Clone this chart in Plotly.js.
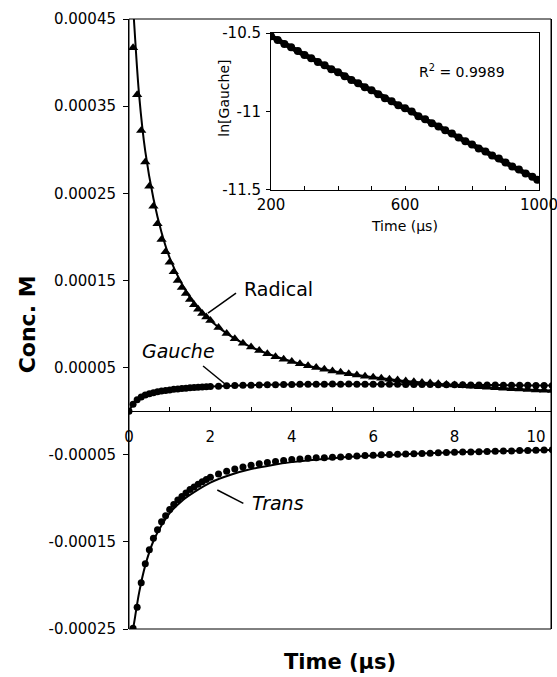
<!DOCTYPE html>
<html>
<head>
<meta charset="utf-8">
<script src="https://cdn.plot.ly/plotly-3.0.1.min.js"></script>
<style>html,body{margin:0;padding:0;background:#fff;}#chart{width:557px;height:677px;}</style>
</head>
<body>
<div id="chart"></div>
<script>
// ---- main panel data (time in microseconds, concentration in M) ----
var timeData = [0.1,0.2,0.3,0.4,0.5,0.6,0.7,0.8,0.9,1.0,1.1,1.2,1.3,1.4,1.5,1.6,1.7,1.8,1.9,2.0,
  2.2,2.4,2.6,2.8,3.0,3.2,3.4,3.6,3.8,4.0,4.2,4.4,4.6,4.8,5.0,5.2,5.4,5.6,5.8,6.0,
  6.2,6.4,6.6,6.8,7.0,7.2,7.4,7.6,7.8,8.0,8.2,8.4,8.6,8.8,9.0,9.2,9.4,9.6,9.8,10.0,10.2,10.4];

var radical = [4.17e-4,3.63e-4,3.22e-4,2.86e-4,2.58e-4,2.35e-4,2.15e-4,1.97e-4,1.83e-4,1.71e-4,
  1.60e-4,1.50e-4,1.42e-4,1.35e-4,1.28e-4,1.22e-4,1.17e-4,1.12e-4,1.08e-4,1.04e-4,
  0.96e-4,0.89e-4,0.83e-4,0.78e-4,0.735e-4,0.695e-4,0.66e-4,0.625e-4,0.595e-4,0.57e-4,
  0.545e-4,0.52e-4,0.50e-4,0.48e-4,0.46e-4,0.445e-4,0.43e-4,0.415e-4,0.40e-4,0.39e-4,
  0.378e-4,0.367e-4,0.357e-4,0.347e-4,0.338e-4,0.33e-4,0.322e-4,0.314e-4,0.306e-4,0.299e-4,
  0.292e-4,0.286e-4,0.28e-4,0.274e-4,0.268e-4,0.263e-4,0.258e-4,0.253e-4,0.248e-4,0.244e-4,0.24e-4,0.236e-4];

var gaucheTime = [0].concat(timeData);
var gauche = [0,0.8e-5,1.3e-5,1.62e-5,1.85e-5,2.0e-5,2.12e-5,2.22e-5,2.31e-5,2.38e-5,2.44e-5,
  2.5e-5,2.55e-5,2.6e-5,2.64e-5,2.68e-5,2.71e-5,2.74e-5,2.77e-5,2.8e-5,2.82e-5,
  2.86e-5,2.9e-5,2.93e-5,2.96e-5,2.98e-5,3.0e-5,3.02e-5,3.04e-5,3.05e-5,3.07e-5,
  3.08e-5,3.09e-5,3.1e-5,3.1e-5,3.11e-5,3.1e-5,3.11e-5,3.1e-5,3.1e-5,3.09e-5,
  3.09e-5,3.08e-5,3.08e-5,3.07e-5,3.06e-5,3.06e-5,3.05e-5,3.04e-5,3.03e-5,3.03e-5,
  3.02e-5,3.01e-5,3.0e-5,3.0e-5,2.99e-5,2.98e-5,2.97e-5,2.97e-5,2.96e-5,2.95e-5,2.95e-5,2.94e-5];

var trans = [-2.49e-4,-2.25e-4,-1.97e-4,-1.75e-4,-1.59e-4,-1.46e-4,-1.36e-4,-1.27e-4,-1.2e-4,-1.13e-4,
  -1.07e-4,-1.02e-4,-0.98e-4,-0.94e-4,-0.9e-4,-0.87e-4,-0.84e-4,-0.81e-4,-0.785e-4,-0.76e-4,
  -0.72e-4,-0.69e-4,-0.665e-4,-0.64e-4,-0.62e-4,-0.605e-4,-0.59e-4,-0.577e-4,-0.566e-4,-0.556e-4,
  -0.548e-4,-0.54e-4,-0.535e-4,-0.534e-4,-0.53e-4,-0.525e-4,-0.52e-4,-0.515e-4,-0.51e-4,-0.505e-4,
  -0.501e-4,-0.498e-4,-0.495e-4,-0.491e-4,-0.488e-4,-0.485e-4,-0.482e-4,-0.478e-4,-0.476e-4,-0.473e-4,
  -0.47e-4,-0.468e-4,-0.465e-4,-0.463e-4,-0.46e-4,-0.458e-4,-0.456e-4,-0.453e-4,-0.451e-4,-0.449e-4,-0.447e-4,-0.445e-4];

// fitted curves
var radicalFitTime = [0.05,0.12,0.25,0.4,0.6,0.8,1.0,1.3,1.6,2.0,2.5,3.0,4.0,5.0,6.0,7.0,8.0,9.0,10.0,10.4];
var radicalFit = [5.0e-4,4.5e-4,3.62e-4,2.98e-4,2.44e-4,2.05e-4,1.76e-4,1.46e-4,1.24e-4,1.04e-4,
  0.86e-4,0.735e-4,0.57e-4,0.46e-4,0.39e-4,0.338e-4,0.299e-4,0.268e-4,0.244e-4,0.236e-4];
var gaucheFitTime = [0,0.1,0.2,0.4,0.6,0.8,1.0,1.5,2.0,3.0,4.0,5.0,6.0,7.0,8.0,9.0,10.0,10.4];
var gaucheFit = [0,0.78e-5,1.28e-5,1.83e-5,2.1e-5,2.3e-5,2.43e-5,2.67e-5,2.82e-5,2.98e-5,
  3.07e-5,3.1e-5,3.09e-5,3.06e-5,3.03e-5,2.99e-5,2.95e-5,2.94e-5];
var transFitTime = [0.08,0.15,0.25,0.4,0.6,0.8,1.0,1.3,1.6,2.0,2.5,3.0,3.5,4.0,5.0,6.0,7.0,8.0,9.0,10.0,10.4];
var transFit = [-2.56e-4,-2.36e-4,-2.08e-4,-1.77e-4,-1.49e-4,-1.31e-4,-1.17e-4,-1.03e-4,-0.93e-4,-0.82e-4,
  -0.73e-4,-0.665e-4,-0.62e-4,-0.585e-4,-0.54e-4,-0.51e-4,-0.49e-4,-0.473e-4,-0.46e-4,-0.449e-4,-0.445e-4];

// ---- inset data ----
var insetTime = [200,220,240,260,280,300,320,340,360,380,400,420,440,460,480,500,520,540,560,580,
  600,620,640,660,680,700,720,740,760,780,800,820,840,860,880,900,920,940,960,980,995];
var lnGauche = [-10.52,-10.545,-10.57,-10.59,-10.615,-10.64,-10.66,-10.685,-10.705,-10.73,
  -10.75,-10.775,-10.80,-10.82,-10.845,-10.865,-10.89,-10.915,-10.935,-10.96,
  -10.98,-11.00,-11.03,-11.05,-11.075,-11.095,-11.12,-11.14,-11.165,-11.19,
  -11.21,-11.235,-11.255,-11.28,-11.30,-11.325,-11.35,-11.37,-11.395,-11.415,-11.435];

// ---- tick labels ----
var yTickVals = [-0.00025,-0.00015,-0.00005,0.00005,0.00015,0.00025,0.00035,0.00045];
var yTickText = ['-0.00025','-0.00015','-0.00005','0.00005','0.00015','0.00025','0.00035','0.00045'];
var xTickVals = [0,2,4,6,8,10];
var xTickText = ['0','2','4','6','8','10'];
var insetXTickVals = [200,600,1000];
var insetXTickText = ['200','600','1000'];
var insetYTickVals = [-11.5,-11,-10.5];
var insetYTickText = ['-11.5','-11','-10.5'];

var yRange = [-0.00025, 0.00045];
var xRange = [0, 10.37];

var FONT = 'DejaVu Sans, Verdana, sans-serif';
var BLACK = '#000';

var traces = [
  {x: radicalFitTime, y: radicalFit, mode: 'lines', line: {color: BLACK, width: 2, shape: 'spline'}, xaxis: 'x', yaxis: 'y', hoverinfo: 'skip'},
  {x: gaucheFitTime, y: gaucheFit, mode: 'lines', line: {color: BLACK, width: 2, shape: 'spline'}, xaxis: 'x', yaxis: 'y', hoverinfo: 'skip'},
  {x: transFitTime, y: transFit, mode: 'lines', line: {color: BLACK, width: 2, shape: 'spline'}, xaxis: 'x', yaxis: 'y', hoverinfo: 'skip'},
  {x: timeData, y: radical, mode: 'markers', marker: {symbol: 'triangle-up', size: 9, color: BLACK}, xaxis: 'x', yaxis: 'y'},
  {x: gaucheTime, y: gauche, mode: 'markers', marker: {symbol: 'circle', size: 7, color: BLACK}, xaxis: 'x', yaxis: 'y'},
  {x: timeData, y: trans, mode: 'markers', marker: {symbol: 'circle', size: 7, color: BLACK}, xaxis: 'x', yaxis: 'y'},
  {x: insetTime, y: lnGauche, mode: 'lines+markers', line: {color: BLACK, width: 5}, marker: {symbol: 'circle', size: 8, color: BLACK}, xaxis: 'x2', yaxis: 'y2'}
];

var layout = {
  width: 557, height: 677,
  margin: {l: 129, r: 6, t: 19, b: 48},
  paper_bgcolor: '#fff', plot_bgcolor: '#fff',
  showlegend: false,
  font: {family: FONT, color: BLACK, size: 15},
  xaxis: {
    domain: [0, 1], range: xRange, anchor: 'free',
    position: (0 - yRange[0]) / (yRange[1] - yRange[0]),
    showgrid: false, zeroline: false, showline: true, linecolor: BLACK, linewidth: 1,
    ticks: 'inside', ticklen: 4, tickcolor: BLACK,
    tickmode: 'array', tickvals: xTickVals, ticktext: xTickText,
    minor: {dtick: 1, tick0: 0, ticks: 'inside', ticklen: 4, tickcolor: BLACK, showgrid: false},
    ticklabelstandoff: 12,
    tickfont: {family: FONT, size: 15, color: BLACK}
  },
  yaxis: {
    domain: [0, 1], range: yRange, anchor: 'x',
    showgrid: false, zeroline: false, showline: true, mirror: true, linecolor: BLACK, linewidth: 1,
    ticks: 'outside', ticklen: 5, tickcolor: BLACK,
    tickmode: 'array', tickvals: yTickVals, ticktext: yTickText,
    ticklabelstandoff: 4,
    tickfont: {family: FONT, size: 15, color: BLACK}
  },
  xaxis2: {
    domain: [0.3365, 0.9716], range: [200, 1000], anchor: 'y2',
    showgrid: false, zeroline: false, showline: true, mirror: true, linecolor: BLACK, linewidth: 1,
    ticks: 'inside', ticklen: 4, tickcolor: BLACK,
    tickmode: 'array', tickvals: insetXTickVals, ticktext: insetXTickText,
    minor: {dtick: 100, tick0: 200, ticks: 'inside', ticklen: 4, tickcolor: BLACK, showgrid: false},
    ticklabelstandoff: 1,
    ticklabeloverflow: 'allow',
    tickfont: {family: FONT, size: 15, color: BLACK}
  },
  yaxis2: {
    domain: [0.7197, 0.977], range: [-11.5, -10.5], anchor: 'x2',
    showgrid: false, zeroline: false, showline: true, mirror: true, linecolor: BLACK, linewidth: 1,
    ticks: 'outside', ticklen: 4, tickcolor: BLACK,
    tickmode: 'array', tickvals: insetYTickVals, ticktext: insetYTickText,
    ticklabelstandoff: 2,
    tickfont: {family: FONT, size: 15, color: BLACK}
  },
  shapes: [
    {type: 'rect', xref: 'paper', yref: 'paper', x0: 0, x1: 1, y0: 0, y1: 1, line: {color: BLACK, width: 1}},
    {type: 'line', xref: 'x', yref: 'y', x0: 1.94, y0: 1.126e-4, x1: 2.63, y1: 1.355e-4, line: {color: BLACK, width: 1.5}},
    {type: 'line', xref: 'x', yref: 'y', x0: 1.82, y0: 0.518e-4, x1: 2.36, y1: 0.311e-4, line: {color: BLACK, width: 1.5}},
    {type: 'line', xref: 'x', yref: 'y', x0: 2.17, y0: -0.905e-4, x1: 2.81, y1: -1.058e-4, line: {color: BLACK, width: 1.5}}
  ],
  annotations: [
    {text: 'Radical', xref: 'x', yref: 'y', x: 2.78, y: 1.40e-4, xanchor: 'left', yanchor: 'middle', showarrow: false, font: {family: FONT, size: 19, color: BLACK}},
    {text: '<i>Gauche</i>', xref: 'x', yref: 'y', x: 0.27, y: 0.69e-4, xanchor: 'left', yanchor: 'middle', showarrow: false, font: {family: FONT, size: 19, color: BLACK}},
    {text: '<i>Trans</i>', xref: 'x', yref: 'y', x: 2.97, y: -1.055e-4, xanchor: 'left', yanchor: 'middle', showarrow: false, font: {family: FONT, size: 19, color: BLACK}},
    {text: '<b>Conc. M</b>', xref: 'paper', yref: 'paper', x: -0.241, y: 0.5, textangle: -90, xanchor: 'center', yanchor: 'middle', showarrow: false, font: {family: FONT, size: 22, color: BLACK}},
    {text: '<b>Time (\u03bcs)</b>', xref: 'paper', yref: 'paper', x: 0.5, y: -0.054, xanchor: 'center', yanchor: 'middle', showarrow: false, font: {family: FONT, size: 21, color: BLACK}},
    {text: 'ln[Gauche]', xref: 'paper', yref: 'paper', x: 0.226, y: 0.87, textangle: -90, xanchor: 'center', yanchor: 'middle', showarrow: false, font: {family: FONT, size: 14, color: BLACK}},
    {text: 'Time (\u03bcs)', xref: 'paper', yref: 'paper', x: 0.654, y: 0.661, xanchor: 'center', yanchor: 'middle', showarrow: false, font: {family: FONT, size: 14, color: BLACK}},
    {text: 'R<sup>2</sup> = 0.9989', xref: 'paper', yref: 'paper', x: 0.789, y: 0.9148, xanchor: 'center', yanchor: 'middle', showarrow: false, font: {family: FONT, size: 14, color: BLACK}}
  ]
};

Plotly.newPlot('chart', traces, layout, {staticPlot: true, displayModeBar: false});
</script>
</body>
</html>
